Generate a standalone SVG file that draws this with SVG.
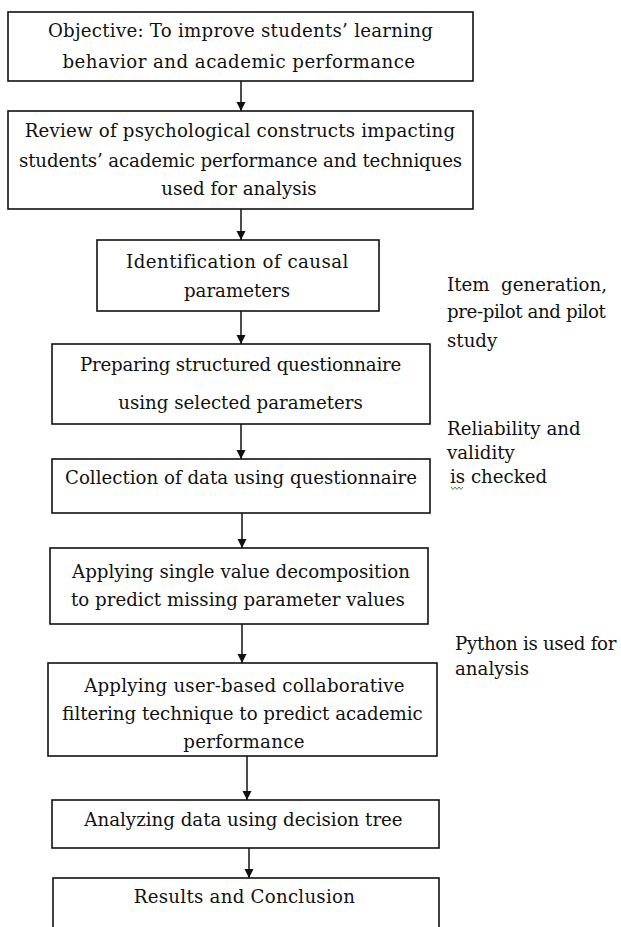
<svg xmlns="http://www.w3.org/2000/svg" width="621" height="927" viewBox="0 0 621 927">
  <style>
    .box { fill: #fff; stroke: #111; stroke-width: 1.6; }
    .t { font-family: "DejaVu Serif", "Liberation Serif", serif; font-size: 18.2px; fill: #111; }
    .c { text-anchor: middle; }
    .link { stroke: #111; stroke-width: 1.5; fill: none; marker-end: url(#head); }
    .squiggle { stroke: #3a9a3a; stroke-width: 1; fill: none; }
  </style>
  <defs>
    <marker id="head" markerUnits="userSpaceOnUse" markerWidth="9" markerHeight="10" refX="9" refY="4.5" orient="auto">
      <path d="M0,0 L9,4.5 L0,9 Z" fill="#111"/>
    </marker>
  </defs>
  <rect width="621" height="927" fill="#fff"/>

  <!-- process steps -->
  <g id="objective">
    <rect class="box" x="8" y="12" width="465" height="69"/>
    <text class="t c" x="240.5" y="37" letter-spacing="0.24">Objective: To improve students’ learning</text>
    <text class="t c" x="239" y="68" letter-spacing="0.46">behavior and academic performance</text>
  </g>
  <g id="review">
    <rect class="box" x="8" y="111" width="465" height="98"/>
    <text class="t c" x="240" y="137" letter-spacing="0.2">Review of psychological constructs impacting</text>
    <text class="t c" x="240.5" y="167" letter-spacing="-0.13">students’ academic performance and techniques</text>
    <text class="t c" x="239" y="195">used for analysis</text>
  </g>
  <g id="identification">
    <rect class="box" x="97" y="240" width="282" height="71"/>
    <text class="t c" x="237.5" y="268" letter-spacing="0.46">Identification of causal</text>
    <text class="t c" x="237" y="297">parameters</text>
  </g>
  <g id="questionnaire">
    <rect class="box" x="52" y="344" width="378" height="80"/>
    <text class="t c" x="240.5" y="371" letter-spacing="-0.2">Preparing structured questionnaire</text>
    <text class="t c" x="240.5" y="409">using selected parameters</text>
  </g>
  <g id="collection">
    <rect class="box" x="52" y="459" width="378" height="54"/>
    <text class="t c" x="241" y="484">Collection of data using questionnaire</text>
  </g>
  <g id="svd">
    <rect class="box" x="50" y="548" width="378" height="76"/>
    <text class="t c" x="241" y="578">Applying single value decomposition</text>
    <text class="t c" x="238" y="606">to predict missing parameter values</text>
  </g>
  <g id="filtering">
    <rect class="box" x="48" y="663" width="389" height="93"/>
    <text class="t c" x="244.5" y="692" letter-spacing="0.2">Applying user-based collaborative</text>
    <text class="t c" x="242.5" y="720">filtering technique to predict academic</text>
    <text class="t c" x="244" y="748" letter-spacing="0.3">performance</text>
  </g>
  <g id="decision-tree">
    <rect class="box" x="52" y="800" width="387" height="48"/>
    <text class="t c" x="243.5" y="826">Analyzing data using decision tree</text>
  </g>
  <g id="results">
    <rect class="box" x="53" y="878" width="386" height="70"/>
    <text class="t c" x="244.5" y="903" letter-spacing="0.25">Results and Conclusion</text>
  </g>

  <!-- side notes -->
  <g id="note-items">
    <text class="t" x="447" y="291">Item&#160; generation,</text>
    <text class="t" x="447" y="318" letter-spacing="-0.4">pre-pilot and pilot</text>
    <text class="t" x="447" y="347">study</text>
  </g>
  <g id="note-reliability">
    <text class="t" x="447" y="435">Reliability and</text>
    <text class="t" x="447" y="459">validity</text>
    <text class="t" x="450" y="483">is checked</text>
    <path class="squiggle" d="M451,487 l2,2.5 l2,-2.5 l2,2.5 l2,-2.5 l2,2.5 l2,-2.5"/>
  </g>
  <g id="note-python">
    <text class="t" x="455" y="650" letter-spacing="-0.3">Python is used for</text>
    <text class="t" x="455" y="675">analysis</text>
  </g>

  <!-- connectors -->
  <g id="connectors">
    <line class="link" x1="241" y1="81" x2="241" y2="111"/>
    <line class="link" x1="241" y1="209" x2="241" y2="240"/>
    <line class="link" x1="241" y1="311" x2="241" y2="344"/>
    <line class="link" x1="241" y1="424" x2="241" y2="459"/>
    <line class="link" x1="242" y1="513" x2="242" y2="548"/>
    <line class="link" x1="242" y1="624" x2="242" y2="663"/>
    <line class="link" x1="247" y1="756" x2="247" y2="800"/>
    <line class="link" x1="249" y1="848" x2="249" y2="878"/>
  </g>
</svg>
